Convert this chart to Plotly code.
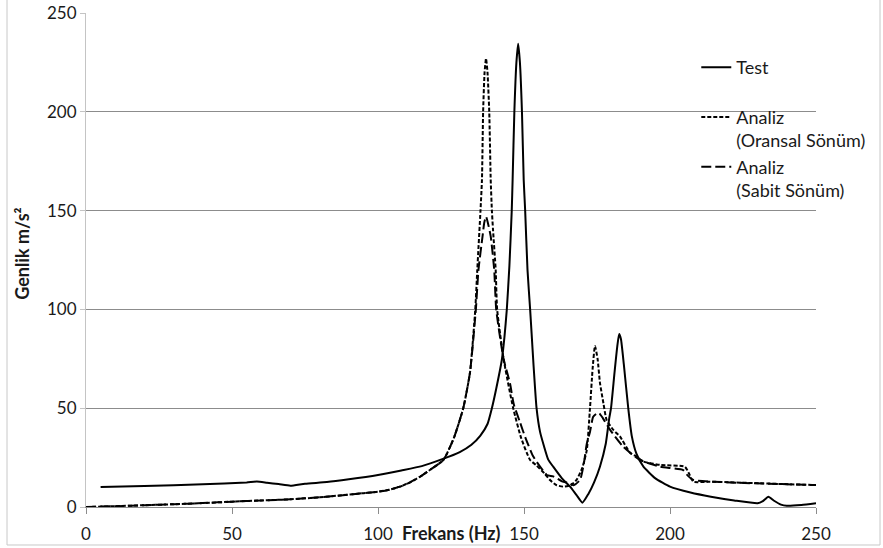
import plotly.graph_objects as go

# ---------------- data ----------------
freq_test = [5, 20, 40, 55, 58.5, 62, 66, 70, 75, 82.5, 90, 100, 108, 115, 122, 128, 132, 135,
             137.5, 139, 140.5, 142.4, 143.3, 144.1, 145, 145.8, 146.1, 146.7, 147.4, 148.0,
             148.6, 149.3, 149.9, 150.4, 151.2, 152.1, 152.6, 153.3, 154.3, 155.5, 156.8, 158.3,
             160, 163, 165.8, 168, 170, 172, 174, 176, 178, 179.2, 179.8, 181, 182, 182.6, 183.2,
             184.2, 185.7, 186.9, 188.5, 190.9, 195, 200, 207, 214, 222, 230, 231.8, 233.7,
             235.5, 238, 240, 245, 250]
amp_test = [10.1, 10.6, 11.5, 12.4, 12.9, 12.3, 11.6, 10.8, 11.8, 12.6, 14.0, 16.2, 18.5, 20.7,
            24.2, 27.8, 31.5, 36.0, 42.0, 50.0, 60.0, 74.4, 86.0, 99.7, 122, 150, 165.5, 200,
            225, 234.5, 225, 200, 165.5, 150, 120, 100, 88, 71, 50, 38, 31, 24, 20.4, 14.5,
            10.3, 6.0, 2.2, 6.5, 12.5, 20.4, 32, 45, 50, 68, 82, 87.6, 85, 72, 50, 36, 27,
            20.4, 14.5, 10.3, 7.3, 5.2, 3.3, 1.9, 3.0, 5.2, 3.3, 1.2, 0.6, 1.0, 1.9]

freq_oransal = [0, 10, 20, 30, 40, 50, 60, 70, 80, 88, 95, 100, 104, 107.5, 111, 114.4, 118,
                122.4, 126, 129.2, 131.5, 133.3, 134.0, 135.1, 135.6, 136.0, 136.5, 137.0,
                137.5, 138.1, 138.6, 139.0, 139.4, 140.3, 140.8, 143, 146.3, 149, 152.1, 154.3,
                157, 159, 161.2, 163.5, 166, 168, 170, 171.5, 172.6, 173.5, 174.3, 175.2, 176.0,
                177.2, 178.3, 180.6, 182.9, 186.3, 188.6, 190.9, 196.6, 205.1, 206.5, 208,
                213.7, 230.8, 250]
amp_oransal = [0, 0.4, 0.9, 1.4, 2.0, 2.7, 3.3, 3.9, 4.9, 6.0, 7.0, 7.7, 8.8, 10.3, 12.5, 15.3,
               19.0, 23.8, 35, 50, 68, 99.7, 120, 150, 165.5, 200, 220, 227, 220, 200, 165.5,
               150, 140, 120, 100, 75, 50, 35, 23.8, 21, 17, 13.5, 11, 10.3, 11, 13.7, 20,
               28.8, 50, 70, 81.5, 75, 63, 52.5, 44, 39, 35.6, 27.5, 25.5, 23, 21.3, 20.4, 17,
               12.8, 12.8, 12.0, 11.1]

freq_sabit = [0, 10, 20, 30, 40, 50, 60, 70, 80, 88, 95, 100, 104, 107.5, 111, 114.4, 118,
              122.4, 126, 129.2, 131.5, 133.5, 134.4, 135.8, 136.4, 137.0, 137.6, 138.6, 139.8,
              140.5, 143, 145.2, 146.5, 148.6, 150.5, 153.2, 157.8, 160, 163, 165.8, 167,
              169.2, 170.5, 171.5, 172.6, 173.7, 175.0, 175.8, 177, 179.5, 184, 189.7, 196.6,
              204.5, 206, 208, 219.4, 250]
amp_sabit = [0, 0.4, 0.9, 1.4, 2.0, 2.7, 3.3, 3.9, 4.9, 6.0, 7.0, 7.7, 8.8, 10.3, 12.5, 15.3,
             19.0, 23.8, 35, 50, 68, 99.7, 120, 137, 144, 147, 144, 137, 120, 99.7, 75, 62.6,
             52, 43, 35, 25.5, 16.2, 15.5, 13, 12, 11, 13.7, 22, 32, 38, 45.7, 47.4, 47.4, 45,
             39, 30.5, 23.8, 20.4, 18.7, 16, 13.7, 12.5, 11.1]

x_ticks = [0, 50, 100, 150, 200, 250]
y_ticks = [0, 50, 100, 150, 200, 250]

names = ["Test", "Analiz<br>(Oransal Sönüm)", "Analiz<br>(Sabit Sönüm)"]

# ---------------- figure ----------------
FONT = "Lato"
TXT = "#1a1a1a"
fig = go.Figure()
fig.add_trace(go.Scatter(x=freq_test, y=amp_test, mode="lines", name=names[0] + "<br> ",
                         legendgroup="a",
                         line=dict(color="black", width=2, dash="solid",
                                   shape="spline", smoothing=0.5)))
fig.add_trace(go.Scatter(x=freq_oransal, y=amp_oransal, mode="lines", name=names[1],
                         legendgroup="b",
                         line=dict(color="black", width=2, dash="4px,2px",
                                   shape="spline", smoothing=0.5)))
fig.add_trace(go.Scatter(x=freq_sabit, y=amp_sabit, mode="lines", name=names[2],
                         legendgroup="c",
                         line=dict(color="black", width=2, dash="10px,4px",
                                   shape="spline", smoothing=0.5)))

grid = "#8c8c8c"
fig.update_layout(
    width=883, height=548,
    margin=dict(l=86, r=67, t=13, b=41, autoexpand=False),
    paper_bgcolor="white", plot_bgcolor="white",
    font=dict(family=FONT, size=17, color=TXT),
    showlegend=True,
    legend=dict(x=0.836, y=0.927, xanchor="left", yanchor="top",
                bgcolor="rgba(0,0,0,0)", font=dict(family=FONT, size=18, color=TXT),
                valign="top", tracegroupgap=0, itemwidth=30),
    xaxis=dict(range=[0, 250], tickvals=x_ticks, ticktext=[str(v) for v in x_ticks],
               showgrid=False, zeroline=False, showline=True, linecolor=grid, linewidth=1,
               ticks="outside", ticklen=6, tickcolor=grid, automargin=False,
               ticklabelstandoff=6,
               tickfont=dict(family=FONT, size=17, color=TXT)),
    yaxis=dict(range=[0, 250], tickvals=y_ticks, ticktext=[str(v) for v in y_ticks],
               showgrid=True, gridcolor=grid, gridwidth=1, zeroline=False,
               showline=True, linecolor="#c4c4c4", linewidth=1, automargin=False,
               ticks="outside", ticklen=5, tickcolor="#c4c4c4",
               tickfont=dict(family=FONT, size=17, color=TXT)),
    annotations=[
        dict(text="<b>Frekans (Hz)</b>", xref="paper", yref="paper", x=0.5007, y=-0.053,
             xanchor="center", yanchor="middle", showarrow=False,
             font=dict(family=FONT, size=18, color=TXT)),
        dict(text="<b>Genlik m/s²</b>", xref="paper", yref="paper", x=-0.088, y=0.512,
             xanchor="center", yanchor="middle", showarrow=False, textangle=-90,
             font=dict(family=FONT, size=18, color=TXT)),
    ],
    shapes=[
        dict(type="line", xref="paper", yref="paper", x0=-0.1082, x1=-0.1082, y0=-0.0769,
             y1=1.03, line=dict(color="#c8c8c8", width=1)),
        dict(type="line", xref="paper", yref="paper", x0=1.0877, x1=1.0877, y0=-0.0769,
             y1=1.03, line=dict(color="#c8c8c8", width=1)),
        dict(type="line", xref="paper", yref="paper", x0=-0.1082, x1=1.0877, y0=-0.0769,
             y1=-0.0769, line=dict(color="#c8c8c8", width=1)),
    ],
)

fig.write_html("out.html")
